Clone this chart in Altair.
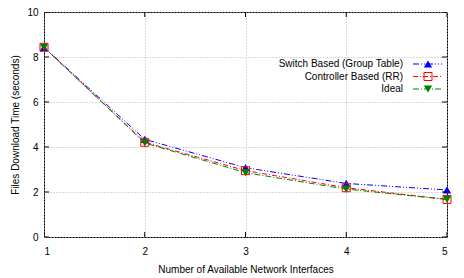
import altair as alt
import pandas as pd

interfaces = [1, 2, 3, 4, 5]
switch_based = [8.43, 4.34, 3.08, 2.38, 2.09]
controller_based = [8.43, 4.21, 2.95, 2.19, 1.67]
ideal = [8.43, 4.18, 2.86, 2.13, 1.67]

series_names = ["Switch Based (Group Table)", "Controller Based (RR)", "Ideal"]
series_values = [switch_based, controller_based, ideal]
colors = ["#0000ff", "#ff0000", "#008000"]
dashes = [[6, 2, 1, 2, 1, 2], [5, 2, 1, 2], [6, 2, 1, 2]]
shapes = ["triangle-up", "square", "triangle-down"]
fills = [True, False, True]

x_ticks = [1, 2, 3, 4, 5]
y_ticks = [0, 2, 4, 6, 8, 10]

W, H = 403, 225
FONT = "Liberation Sans"

xscale = alt.Scale(domain=[1, 5], nice=False)
yscale = alt.Scale(domain=[0, 10], nice=False)

xaxis = alt.Axis(values=x_ticks, format="d", title="Number of Available Network Interfaces",
                 grid=True, gridDash=[1, 2], gridColor="#b4b4b4", domain=False, ticks=False,
                 labelPadding=9, titlePadding=8, labelFontSize=10, titleFontSize=10,
                 labelFont=FONT, titleFont=FONT, labelColor="black", titleColor="black",
                 titleFontWeight="normal")
yaxis = alt.Axis(values=y_ticks, title="Files Download Time (seconds)",
                 grid=True, gridDash=[1, 2], gridColor="#b4b4b4", domain=False, ticks=False,
                 labelPadding=6, titlePadding=6, labelFontSize=10, titleFontSize=10,
                 labelFont=FONT, titleFont=FONT, labelColor="black", titleColor="black",
                 titleFontWeight="normal")

layers = []
legend_y = [52, 64.5, 77]
for i, (name, vals) in enumerate(zip(series_names, series_values)):
    df = pd.DataFrame({"x": interfaces, "y": vals})
    base = alt.Chart(df)
    enc_x = alt.X("x:Q", scale=xscale, axis=xaxis)
    enc_y = alt.Y("y:Q", scale=yscale, axis=yaxis)
    line = base.mark_line(color=colors[i], strokeDash=dashes[i], strokeWidth=1).encode(x=enc_x, y=enc_y)
    pts = base.mark_point(shape=shapes[i], filled=fills[i], color=colors[i], size=70 if fills[i] else 64,
                          strokeWidth=1, opacity=1).encode(x=enc_x, y=enc_y)
    layers += [line, pts]

# legend (gnuplot style: label then sample)
for i, name in enumerate(series_names):
    ldf = pd.DataFrame({"label": [name]})
    lb = alt.Chart(ldf)
    txt = lb.mark_text(align="right", baseline="middle", font=FONT, fontSize=10, color="black").encode(
        x=alt.value(359), y=alt.value(legend_y[i]), text="label:N")
    rule = lb.mark_rule(color=colors[i], strokeDash=dashes[i], strokeWidth=1).encode(
        x=alt.value(369), x2=alt.value(398), y=alt.value(legend_y[i]))
    pt = lb.mark_point(shape=shapes[i], filled=fills[i], color=colors[i], size=70 if fills[i] else 64,
                       strokeWidth=1, opacity=1).encode(x=alt.value(384), y=alt.value(legend_y[i]))
    layers += [txt, rule, pt]

# inward ticks (gnuplot style), mirrored
ydf = pd.DataFrame({"v": y_ticks})
xdf = pd.DataFrame({"v": x_ticks})
for xv in [0, W]:
    layers.append(alt.Chart(ydf).mark_tick(orient="horizontal", clip=True, size=10, thickness=1, color="black", opacity=1)
                  .encode(y=alt.Y("v:Q", scale=yscale, axis=yaxis), x=alt.value(xv)))
for yv in [0, H]:
    layers.append(alt.Chart(xdf).mark_tick(orient="vertical", clip=True, size=10, thickness=1, color="black", opacity=1)
                  .encode(x=alt.X("v:Q", scale=xscale, axis=xaxis), y=alt.value(yv)))

chart = alt.layer(*layers).properties(
    width=W, height=H,
    background="white",
    autosize=alt.AutoSizeParams(type="none"),
    padding={"left": 36, "top": 4, "right": 9, "bottom": 41},
).configure_view(stroke="black", strokeWidth=1)

chart.save("out.html", embed_options={"renderer": "svg", "actions": False})
